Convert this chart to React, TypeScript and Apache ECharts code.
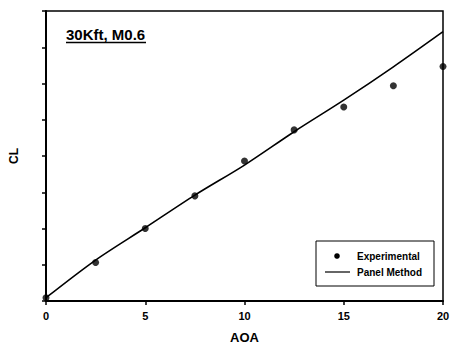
import React, { useEffect, useRef } from "react";
import * as echarts from "echarts";

const aoaPoints = [0, 2.5, 5, 7.5, 10, 12.5, 15, 17.5, 20];
const clExperimental = [0.09, 1.06, 2.0, 2.9, 3.86, 4.72, 5.35, 5.94, 6.47];
const clPanel = [0.09, 1.13, 2.02, 2.92, 3.75, 4.67, 5.54, 6.46, 7.43];
const xTicks = [0, 5, 10, 15, 20];
const titleText = "30Kft, M0.6";
const legendNames = ["Experimental", "Panel Method"];

export default function App() {
  const ref = useRef<HTMLDivElement>(null);
  useEffect(() => {
    document.body.style.margin = "0";
    const chart = echarts.init(ref.current!, null, { renderer: "svg" });
    const font = "Liberation Sans, Arial, sans-serif";
    chart.setOption({
      animation: false,
      backgroundColor: "#ffffff",
      grid: {
        left: 44,
        right: 12,
        top: 11,
        bottom: 48,
        show: true,
        borderColor: "#000",
        borderWidth: 1.5,
      },
      title: {
        text: titleText,
        left: 66,
        top: 27,
        padding: 0,
        textStyle: { fontFamily: font, fontSize: 15, fontWeight: "bold", color: "#000" },
      },
      xAxis: {
        type: "value",
        min: xTicks[0],
        max: xTicks[xTicks.length - 1],
        interval: 5,
        name: "AOA",
        nameLocation: "middle",
        nameGap: 30,
        nameTextStyle: { fontFamily: font, fontSize: 13, fontWeight: "bold", color: "#000" },
        axisLine: { lineStyle: { color: "#000", width: 2 } },
        axisTick: { inside: false, length: 4, lineStyle: { color: "#000", width: 1.5 } },
        axisLabel: { fontFamily: font, fontSize: 11, fontWeight: "bold", color: "#000", margin: 9 },
        splitLine: { show: false },
      },
      yAxis: {
        type: "value",
        min: 0,
        max: 8,
        interval: 1,
        name: "CL",
        nameLocation: "middle",
        nameGap: 26,
        nameTextStyle: { fontFamily: font, fontSize: 12, fontWeight: "bold", color: "#000" },
        axisLine: { show: true, lineStyle: { color: "#000", width: 2 } },
        axisTick: { show: true, inside: false, length: 4, lineStyle: { color: "#000", width: 1.5 } },
        axisLabel: { show: false },
        splitLine: { show: false },
      },
      series: [
        {
          name: legendNames[1],
          type: "line",
          data: aoaPoints.map((x, i) => [x, clPanel[i]]),
          smooth: 0.3,
          symbol: "none",
          lineStyle: { color: "#000", width: 1.6 },
        },
        {
          name: legendNames[0],
          type: "scatter",
          data: aoaPoints.map((x, i) => [x, clExperimental[i]]),
          symbol: "circle",
          symbolSize: 7,
          itemStyle: { color: "#000" },
        },
      ],
      graphic: [
        {
          type: "line",
          shape: { x1: 66, y1: 42.5, x2: 146, y2: 42.5 },
          style: { stroke: "#000", lineWidth: 1.3 },
        },
        {
          type: "rect",
          shape: { x: 316, y: 241, width: 118, height: 45 },
          style: { fill: "#fff", stroke: "#000", lineWidth: 1 },
        },
        {
          type: "circle",
          shape: { cx: 337, cy: 256, r: 2.8 },
          style: { fill: "#000" },
        },
        {
          type: "line",
          shape: { x1: 325, y1: 272, x2: 350, y2: 272 },
          style: { stroke: "#000", lineWidth: 1.2 },
        },
        {
          type: "text",
          x: 357,
          y: 256,
          style: {
            text: legendNames[0],
            fontFamily: font,
            fontSize: 10,
            fontWeight: "bold",
            fill: "#000",
            verticalAlign: "middle",
          },
        },
        {
          type: "text",
          x: 357,
          y: 272,
          style: {
            text: legendNames[1],
            fontFamily: font,
            fontSize: 10,
            fontWeight: "bold",
            fill: "#000",
            verticalAlign: "middle",
          },
        },
      ],
    });
    return () => chart.dispose();
  }, []);
  return <div ref={ref} style={{ width: 455, height: 349 }} />;
}
